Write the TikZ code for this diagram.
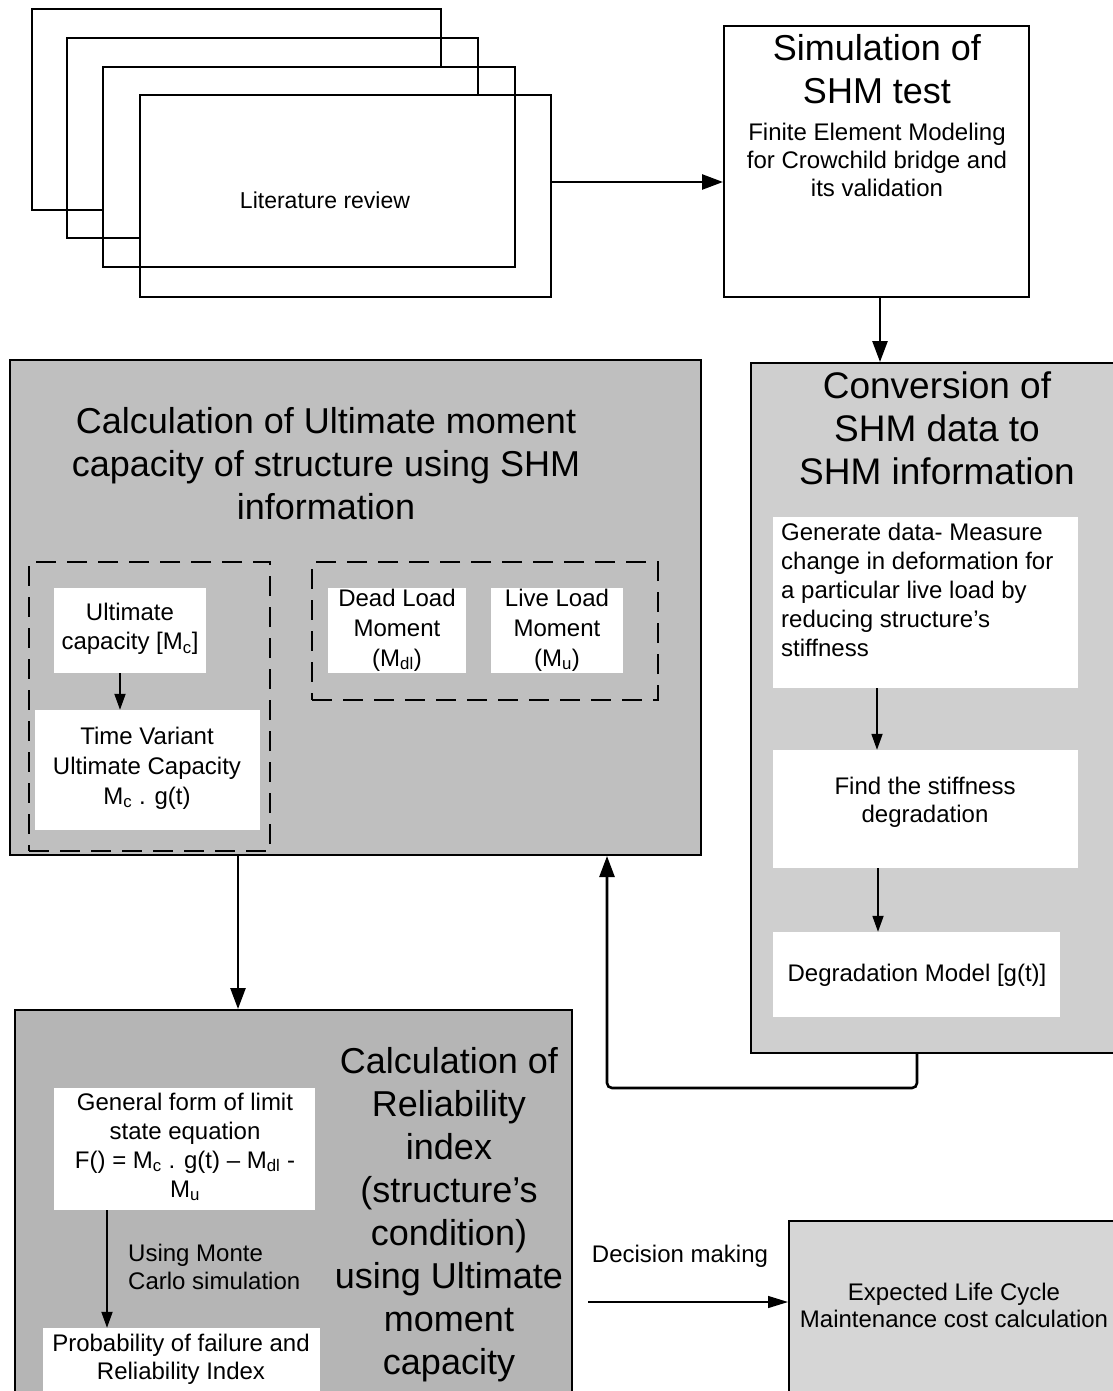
\documentclass[tikz,border=0pt]{standalone}
\usepackage{fontspec}
\setmainfont{Liberation Sans}
\usetikzlibrary{arrows.meta}
\definecolor{ultG}{gray}{0.75}
\definecolor{convG}{gray}{0.81}
\definecolor{relG}{gray}{0.71}
\definecolor{expG}{gray}{0.84}
\begin{document}
\begin{tikzpicture}[x=1pt,y=-1pt,
  litline/.style={draw=black, line width=1.4pt},
  box/.style={draw=black, line width=2pt, inner sep=0pt},
  wbox/.style={fill=white, draw=none, inner sep=0pt},
  dbox/.style={draw=black, line width=1.6pt, dash pattern=on 20pt off 11pt, inner sep=0pt},
  txt/.style={inner sep=0pt, align=center, font=\fontsize{24}{29}\selectfont},
  big/.style={inner sep=0pt, align=center, font=\fontsize{36}{43}\selectfont},
  arr/.style={line width=2.6pt, -{Triangle[length=21pt,width=15pt]}},
  sarr/.style={line width=1.8pt, -{Triangle[length=16pt,width=11pt]}},
  tarr/.style={line width=1.3pt, -{Triangle[length=20pt,width=12pt]}}]
\useasboundingbox (0,0) rectangle (1112,1391);
\fill[white] (0,0) rectangle (1112,1391);

% ---- stacked literature boxes
\draw[litline] (441,67) -- (441,9) -- (32,9) -- (32,210) -- (103,210);
\draw[litline] (478,95) -- (478,38) -- (67,38) -- (67,238) -- (140,238);
\draw[litline] (103,67) rectangle (515,267);
\node[draw=black, line width=1.4pt, inner sep=0pt, minimum width=411pt, minimum height=202pt] (lit4) at (345.5,196) {};
\node[inner sep=0pt, font=\fontsize{23}{28}\selectfont] (littext) at (325,200) {Literature review};

% ---- simulation box
\node[box, minimum width=305pt, minimum height=271pt] (sim) at (876.5,161.5) {};
\node[big] (simtitle) at (877,69) {Simulation of\\SHM test};
\node[txt, font=\fontsize{24}{28}\selectfont] (simbody) at (877,160) {Finite Element Modeling\\for Crowchild bridge and\\its validation};

% ---- ultimate moment box
\node[box, fill=ultG, minimum width=691pt, minimum height=495pt] (ult) at (355.5,607.5) {};
\node[big] (ulttitle) at (326,464) {Calculation of Ultimate moment\\capacity of structure using SHM\\information};
\node[wbox, minimum width=152pt, minimum height=85pt] (uc) at (130,630.5) {};
\node[txt] (uctext) at (130,629) {Ultimate\\capacity [M\textsubscript{c}]};
\node[wbox, minimum width=225pt, minimum height=120pt] (tv) at (147.5,770) {};
\node[txt, font=\fontsize{24}{30}\selectfont] (tvtext) at (147,768) {Time Variant\\Ultimate Capacity\\M\textsubscript{c} . g(t)};
\node[wbox, minimum width=138pt, minimum height=85pt] (dl) at (397,630.5) {};
\node[txt, font=\fontsize{24}{30}\selectfont] (dltext) at (397,630) {Dead Load\\Moment\\(M\textsubscript{dl})};
\node[wbox, minimum width=132pt, minimum height=85pt] (ll) at (557,630.5) {};
\node[txt, font=\fontsize{24}{30}\selectfont] (lltext) at (557,630) {Live Load\\Moment\\(M\textsubscript{u})};
\node[dbox, minimum width=241pt, minimum height=289pt] (dA) at (149.5,706.5) {};
\node[dbox, minimum width=346pt, minimum height=138pt] (dB) at (485,631) {};
\draw[sarr] ([xshift=-10pt]uc.south) -- ([xshift=-27.5pt]tv.north);

% ---- conversion box
\node[box, fill=convG, minimum width=379pt, minimum height=690pt] (conv) at (940.5,708) {};
\node[inner sep=0pt, align=center, font=\fontsize{37}{43}\selectfont] (convtitle) at (937,428) {Conversion of\\SHM data to\\SHM information};
\node[wbox, minimum width=305pt, minimum height=171pt] (g1) at (925.5,602.5) {};
\node[txt, align=left, anchor=west] (g1text) at (781,590) {Generate data- Measure\\change in deformation for\\a particular live load by\\reducing structure’s\\stiffness};
\node[wbox, minimum width=305pt, minimum height=118pt] (g2) at (925.5,809) {};
\node[txt, font=\fontsize{24}{28}\selectfont] (g2text) at (925,802) {Find the stiffness\\degradation};
\node[wbox, minimum width=287pt, minimum height=85pt] (g3) at (916.5,974.5) {};
\node[txt] (g3text) at (917,975) {Degradation Model [g(t)]};
\draw[sarr] ([xshift=-48.5pt]g1.south) -- ([xshift=-48.5pt]g2.north);
\draw[sarr] ([xshift=-47.5pt]g2.south) -- ([xshift=-38.5pt]g3.north);

% ---- reliability box
\node[box, fill=relG, minimum width=557pt, minimum height=400pt] (rel) at (293.5,1210) {};
\node[big] (reltitle) at (449,1214.5) {Calculation of\\Reliability\\index\\(structure’s\\condition)\\using Ultimate\\moment\\capacity};
\node[wbox, minimum width=261pt, minimum height=122pt] (gf) at (184.5,1149) {};
\node[txt] (gftext) at (185,1147) {General form of limit\\state equation\\F() = M\textsubscript{c} . g(t) – M\textsubscript{dl} -\\M\textsubscript{u}};
\node[wbox, minimum width=277pt, minimum height=82pt] (pf) at (181.5,1369) {};
\node[txt, font=\fontsize{24}{28}\selectfont] (pftext) at (181,1359) {Probability of failure and\\Reliability Index};
\coordinate (xmc) at (107,0);
\draw[sarr] (gf.south -| xmc) -- (pf.north -| xmc);
\node[txt, align=left, anchor=west, font=\fontsize{24}{28}\selectfont] (mclabel) at (128,1267) {Using Monte\\Carlo simulation};

% ---- expected cost box
\node[box, fill=expG, minimum width=341pt, minimum height=189pt] (exp) at (959.5,1315.5) {};
\node[txt, font=\fontsize{24}{27}\selectfont] (exptext) at (954,1305) {Expected Life Cycle\\Maintenance cost calculation};

% ---- connectors
\coordinate (ylit) at (0,182);
\draw[arr] (lit4.east |- ylit) -- (sim.west |- ylit);
\coordinate (xsim) at (880,0);
\draw[arr] (sim.south -| xsim) -- (conv.north -| xsim);
\coordinate (xur) at (238,0);
\draw[arr] (ult.south -| xur) -- (rel.north -| xur);
\coordinate (xcv) at (917,0);
\coordinate (xup) at (607,0);
\draw[arr, rounded corners=5pt] (conv.south -| xcv) -- ++(0,34) -| (ult.south -| xup);
\coordinate (decstart) at (588,1302);
\draw[tarr] (decstart) -- (exp.west |- decstart);
\node[txt] (declabel) at (680,1256) {Decision making};
\end{tikzpicture}
\end{document}
